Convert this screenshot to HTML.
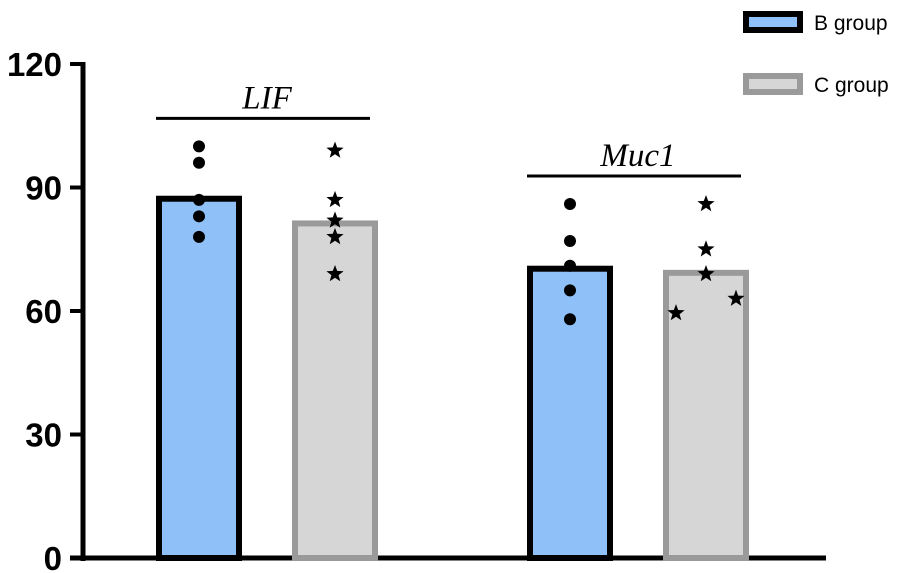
<!DOCTYPE html>
<html><head><meta charset="utf-8"><style>
body{margin:0;background:#fff;}
svg{display:block;font-family:"Liberation Sans",sans-serif;}
</style></head><body>
<svg id="chart" width="898" height="573"></svg>
<script>
const categories=["LIF","Muc1"];
const groupNames=["B group","C group"];
const bValues=[88,71];
const cValues=[82,70];
const bPoints=[[100,96,87,83,78],[86,77,71,65,58]];
const cPoints=[[99,87,82,78,69],[86,75,69,59.5,63]];
const cOffsets=[[0,0,0,0,0],[0,0,0,-1,1]];
const yTicks=[0,30,60,90,120];
const NS="http://www.w3.org/2000/svg";
const svg=document.getElementById('chart');
const y0=558,y120=64;
function y(v){return y0-(v/120)*(y0-y120);}
const groupX=[156,527];
const barW=86, gap=50;
function bx(g,s){return groupX[g]+s*(barW+gap);}
function mk(t,a,p){const e=document.createElementNS(NS,t);for(const k in a)e.setAttribute(k,a[k]);(p||svg).appendChild(e);return e;}
let ax=mk('line',{x1:83,y1:y(120)-2,x2:83,y2:y0+3,stroke:'#000','stroke-width':5});


let xa=mk('line',{x1:70,y1:y0,x2:826,y2:y0,stroke:'#000','stroke-width':5});


yTicks.forEach(t=>{
  const l=mk('line',{x1:70,y1:y(t),x2:83,y2:y(t),stroke:'#000','stroke-width':4});
  
  
  const tx=mk('text',{x:62,y:y(t)+12,'text-anchor':'end','font-size':33,'font-weight':'bold'});
  tx.textContent=t;
  
  
});
function star(cx,cy,r){let p=[];for(let i=0;i<10;i++){const a=-Math.PI/2+i*Math.PI/5;const rr=i%2?r*0.42:r;p.push((cx+rr*Math.cos(a)).toFixed(1)+','+(cy+rr*Math.sin(a)).toFixed(1));}return p.join(' ');}
categories.forEach((c,g)=>{
  let x=bx(g,0);
  let b=mk('rect',{x:x+3,y:y(bValues[g])+3,width:barW-6,height:y0-y(bValues[g])-3,fill:'#90c0f8',stroke:'#000','stroke-width':6});
  
  
  x=bx(g,1);
  let cb=mk('rect',{x:x+3,y:y(cValues[g])+3,width:barW-6,height:y0-y(cValues[g])-3,fill:'#d6d6d6',stroke:'#9a9a9a','stroke-width':6});
  
  
  bPoints[g].forEach(v=>{
    const d=mk('circle',{cx:bx(g,0)+barW/2,cy:y(v),r:6,fill:'#000'});
    
    
  });
  cPoints[g].forEach((v,i)=>{
    const cx=bx(g,1)+barW/2+cOffsets[g][i]*30;
    const s=mk('polygon',{points:star(cx,y(v),9),fill:'#000'});
    
    
  });
  const top=Math.max(...bPoints[g],...cPoints[g]);
  const ly=y(top)-28;
  const ln=mk('line',{x1:bx(g,0),y1:ly,x2:bx(g,1)+barW-8,y2:ly,stroke:'#000','stroke-width':3});
  
  
  const lt=mk('text',{x:(bx(g,0)+bx(g,1)+barW)/2,y:ly-10,'text-anchor':'middle','font-size':33,'font-style':'italic','font-family':'"Liberation Serif",serif'});
  lt.textContent=c;
  
  
});
const lg=[{y:14,fill:'#90c0f8',stroke:'#000'},{y:76,fill:'#d6d6d6',stroke:'#9a9a9a'}];
lg.forEach((l,i)=>{
  const r=mk('rect',{x:746,y:l.y,width:54,height:16,fill:l.fill,stroke:l.stroke,'stroke-width':6});
  
  
  const t=mk('text',{x:814,y:l.y+16,'font-size':21});
  t.textContent=groupNames[i];
  
  
});
</script>
</body></html>
